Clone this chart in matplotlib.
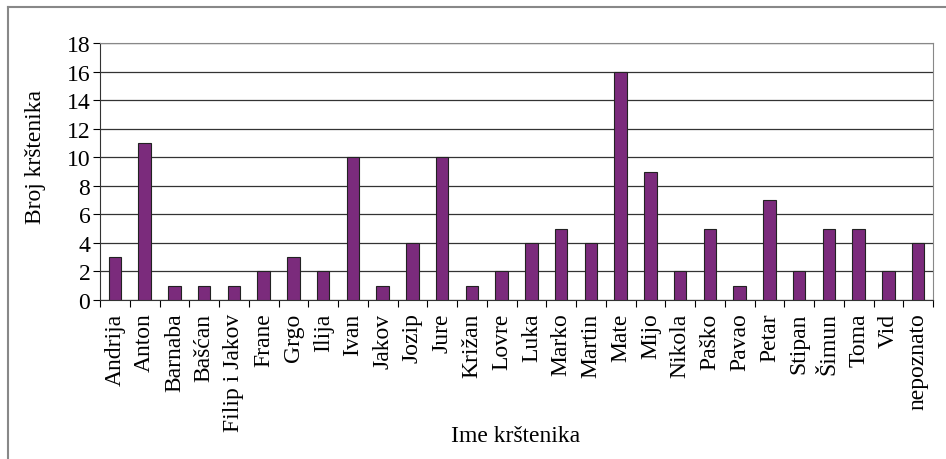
import matplotlib.pyplot as plt
import numpy as np
from matplotlib.lines import Line2D

plt.rcParams["font.family"] = ["Liberation Serif", "DejaVu Serif"]

names = ["Andrija", "Anton", "Barnaba", "Bašćan", "Filip i Jakov", "Frane", "Grgo",
         "Ilija", "Ivan", "Jakov", "Jozip", "Jure", "Križan", "Lovre", "Luka",
         "Marko", "Martin", "Mate", "Mijo", "Nikola", "Paško", "Pavao", "Petar",
         "Stipan", "Šimun", "Toma", "Vid", "nepoznato"]
counts = [3, 11, 1, 1, 1, 2, 3, 2, 10, 1, 4, 10, 1, 2, 4, 5, 4, 16, 9, 2, 5, 1, 7,
          2, 5, 5, 2, 4]
y_ticks = list(range(0, 19, 2))

W, H = 946, 460
fig = plt.figure(figsize=(W / 100, H / 100), dpi=100)
ax = fig.add_axes([100 / W, 1 - 301 / H, (933 - 100) / W, (301 - 44) / H])

x = np.arange(len(names))
ax.bar(x, counts, width=0.42, color="#7b2b7c", edgecolor="#222222", linewidth=0.8, zorder=3)

ax.set_xlim(-0.5, len(names) - 0.5)
ax.set_ylim(0, 18)
ax.set_yticks(y_ticks)
ax.tick_params(axis="y", labelsize=17, length=5, width=0.8, direction="out", pad=2)
ax.yaxis.grid(True, color="#333333", linewidth=0.9, zorder=0)

# ticks at category boundaries, labels at centres
ax.set_xticks(np.arange(len(names) + 1) - 0.5)
ax.set_xticklabels([])
ax.tick_params(axis="x", which="major", length=5, width=0.8, direction="out")
ax.set_xticks(x, minor=True)
ax.set_xticklabels(names, minor=True, rotation=90, fontsize=17)
ax.tick_params(axis="x", which="minor", length=0, pad=9)

for side in ["top", "right"]:
    ax.spines[side].set_color("#888888")
ax.spines["left"].set_color("#333333")
ax.spines["bottom"].set_color("#333333")

ax.set_ylabel("Broj krštenika", fontsize=17, va="center")
ax.yaxis.set_label_coords(-0.078, 0.56)
fig.text(516 / W, 1 - 437 / H, "Ime krštenika", fontsize=17, ha="center", va="center")

# outer frame (partly visible)
fx, fy = 7.5 / W, 1 - 7.5 / H
fig.add_artist(Line2D([fx, fx], [0, fy], color="#888888", linewidth=1.5))
fig.add_artist(Line2D([fx, 1], [fy, fy], color="#888888", linewidth=1.5))

fig.savefig("out.png", dpi=100)
